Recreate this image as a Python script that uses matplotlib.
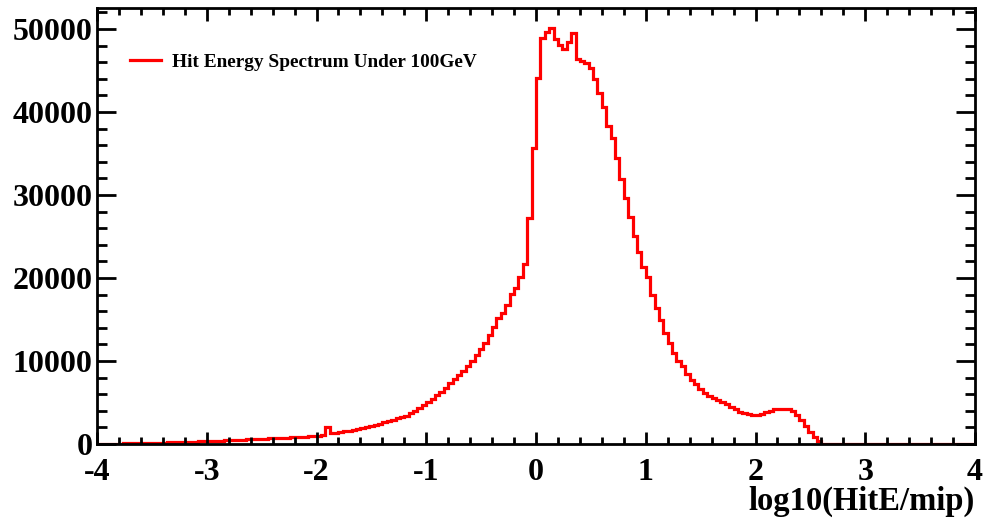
import numpy as np
import matplotlib
matplotlib.use('Agg')
import matplotlib.pyplot as plt
from matplotlib.ticker import MultipleLocator

# histogram: 200 bins of width 0.04 between -4 and 4
x_min = -4.0
x_max = 4.0
n_bins = 200

counts_neg = [
    20, 30, 35, 45, 50, 60, 70, 80, 90, 100,
    115, 125, 140, 150, 165, 180, 195, 210, 225, 240,
    255, 270, 290, 310, 330, 350, 370, 390, 410, 430,
    450, 475, 500, 520, 545, 570, 595, 620, 640, 665,
    690, 715, 740, 765, 790, 820, 850, 880, 915, 950,
    990, 1060, 2000, 1280, 1330, 1450, 1520, 1600, 1690, 1790,
    1890, 2000, 2130, 2270, 2430, 2600, 2760, 2920, 3080, 3230,
    3380, 3700, 4000, 4350, 4680, 5000, 5400, 5850, 6300, 6800,
    7300, 7800, 8300, 8850, 9400, 10000, 10700, 11400, 12200, 13100,
    14100, 15200, 15800, 16750, 18040, 18830, 20080, 21650, 27190, 35630,
]
counts_pos = [
    44060, 48880, 49680, 50090, 48800, 48070, 47590, 48400, 49560, 46350,
    46200, 45940, 45260, 43930, 42330, 40560, 38310, 36820, 34490, 31880,
    29600, 27310, 25060, 23170, 21300, 20100, 18000, 16350, 14940, 13340,
    12130, 10930, 10000, 9440, 8430, 7710, 7190, 6590, 6180, 5780,
    5500, 5250, 5050, 4780, 4420, 4180, 3890, 3770, 3610, 3490,
    3490, 3610, 3820, 4010, 4180, 4260, 4260, 4180, 3980, 3500,
    2900, 2200, 1500, 900, 400, 50, 0, 0, 0, 0,
    0, 0, 0, 0, 0, 0, 0, 0, 0, 0,
    0, 0, 0, 0, 0, 0, 0, 0, 0, 0,
    0, 0, 0, 0, 0, 0, 0, 0, 0, 0,
]
counts = np.array(counts_neg + counts_pos)
edges = np.linspace(x_min, x_max, n_bins + 1)

legend_label = 'Hit Energy Spectrum Under 100GeV'
x_title = 'log10(HitE/mip)'

plt.rcParams['font.family'] = ['Liberation Serif', 'DejaVu Serif']
plt.rcParams['font.weight'] = 'bold'
plt.rcParams['axes.unicode_minus'] = False

fig = plt.figure(figsize=(9.83, 5.2), dpi=100)
ax = fig.add_axes([97/983, 1-444/520, (975-97)/983, (444-8)/520])

ax.stairs(counts, edges, color='red', linewidth=2.3, label=legend_label)

ax.set_xlim(x_min, x_max)
ax.set_ylim(0, 52530)

ax.xaxis.set_major_locator(MultipleLocator(1))
ax.xaxis.set_minor_locator(MultipleLocator(0.2))
ax.yaxis.set_major_locator(MultipleLocator(10000))
ax.yaxis.set_minor_locator(MultipleLocator(2000))

ax.tick_params(which='both', direction='in', top=True, right=True, width=2)
ax.tick_params(axis='x', which='major', length=9, pad=10, labelsize=23)
ax.tick_params(axis='x', which='minor', length=5)
ax.tick_params(axis='y', which='major', length=14, pad=3, labelsize=23)
ax.tick_params(axis='y', which='minor', length=7)
for lab in ax.get_xticklabels() + ax.get_yticklabels():
    lab.set_fontweight('bold')

for s in ax.spines.values():
    s.set_linewidth(2)

ax.set_xlabel(x_title, fontsize=23.5, fontweight='bold', loc='right', labelpad=-1)

ax.legend(loc='upper left', bbox_to_anchor=(0.018, 0.935), frameon=False,
          prop={'size': 13.9, 'weight': 'bold'}, handlelength=1.6, handletextpad=0.55)

plt.savefig('out.png', dpi=100)
